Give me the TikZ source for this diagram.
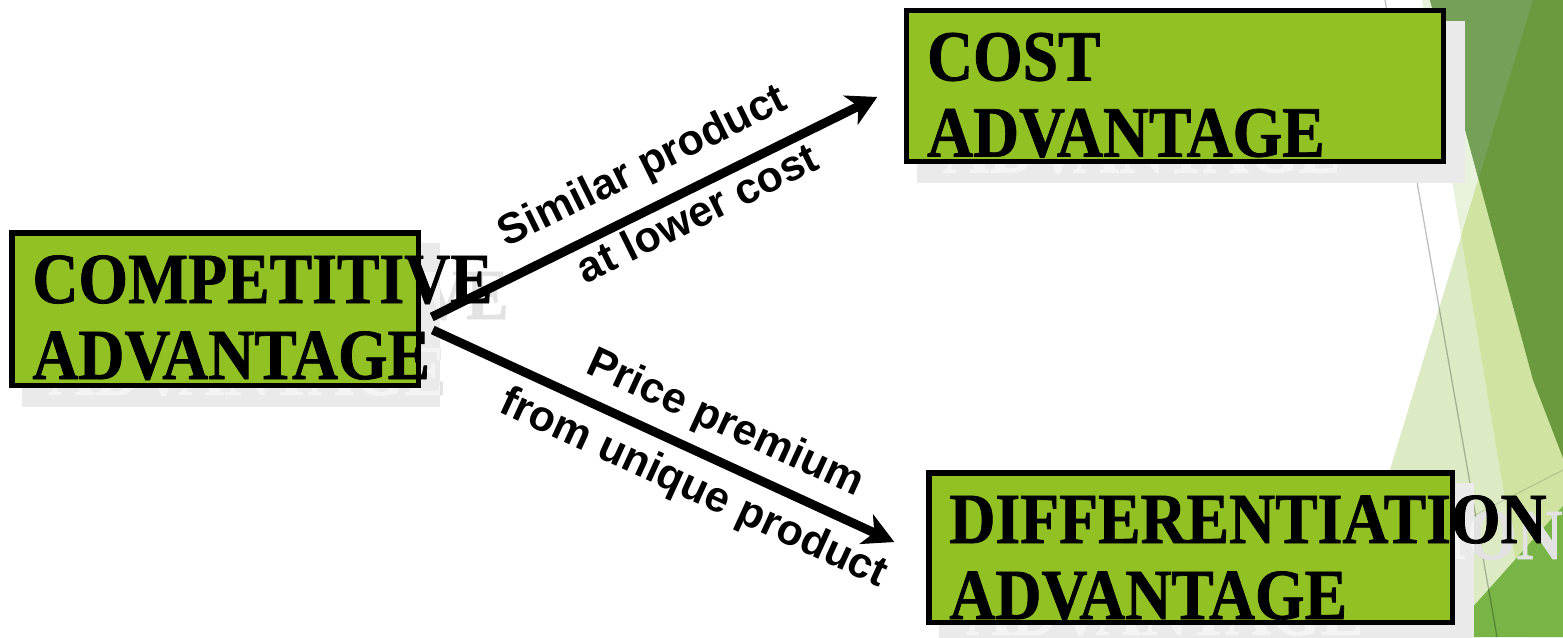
\documentclass[tikz,border=0pt]{standalone}
\usepackage{fontspec}
\usetikzlibrary{arrows.meta,calc}
\newfontfamily\panelfont[FakeStretch=0.885,FakeBold=1]{Liberation Serif}
\newfontfamily\labelfont{Liberation Sans}

\definecolor{panelgreen}{RGB}{146,193,36}
\definecolor{panelshade}{RGB}{234,234,234}
\definecolor{ghostgray}{RGB}{226,226,226}
\definecolor{ghostlight}{RGB}{244,244,244}
\definecolor{facetdark}{RGB}{106,153,62}
\definecolor{facetmist}{RGB}{116,160,88}
\definecolor{facetpale}{RGB}{232,242,220}
\definecolor{facetolive}{RGB}{208,227,160}
\definecolor{facetlight}{RGB}{221,235,197}
\definecolor{facetmid}{RGB}{120,180,70}

\pgfdeclarelayer{facets}
\pgfdeclarelayer{shades}
\pgfsetlayers{facets,shades,main}

\tikzset{
  panel/.style 2 args={draw=black, line width=5.5pt, fill=panelgreen,
    inner sep=0pt, minimum width=#1, minimum height=#2},
  paneltext/.style={font=\panelfont\bfseries\fontsize{72pt}{76pt}\selectfont,
    inner sep=0pt, anchor=base west},
  lbl/.style={font=\labelfont\bfseries\fontsize{43pt}{48pt}\selectfont,
    sloped, inner sep=0pt},
  flowup/.style={line width=9pt,
    -{Stealth[length=30pt,width=33pt,inset=9pt,line width=1pt]}},
  flowdown/.style={line width=9pt,
    -{Stealth[length=31pt,width=33pt,inset=9pt,line width=1pt]}},
}

% a labelled panel with its drop shadow and ghost lettering
% #1 name, #2 #3 centre, #4 #5 border size, #6 #7 the two lines
\newcommand\panelgroup[7]{%
  \node[panel={#4pt}{#5pt}] (#1) at (#2,#3) {};
  \node[paneltext] (#1-text) at ($(#1.north west)+(23.25,73)$)
    {\begin{tabular}[t]{@{}l@{}}#6\\#7\end{tabular}};
  \begin{pgfonlayer}{shades}
    \fill[panelshade] ($(#1.north west)+(13.25,13.25)$)
      rectangle ($(#1.south east)+(18.75,18.75)$);
    \node[paneltext, text=ghostgray] (#1-ghost) at ($(#1-text.base west)+(16,16)$)
      {\begin{tabular}[t]{@{}l@{}}#6\\#7\end{tabular}};
    \begin{scope}
      \clip ($(#1.north west)+(13.25,13.25)$)
        rectangle ($(#1.south east)+(18.75,18.75)$);
      \node[paneltext, text=ghostlight] (#1-ghostin) at ($(#1-text.base west)+(16,16)$)
        {\begin{tabular}[t]{@{}l@{}}#6\\#7\end{tabular}};
    \end{scope}
  \end{pgfonlayer}%
}

\begin{document}
\begin{tikzpicture}[x=1pt,y=-1pt]
\useasboundingbox (0,0) rectangle (1563,637);

% facets along the right edge
\begin{pgfonlayer}{facets}
  \fill[facetlight] (1533,0) -- (1563,0) -- (1563,637) -- (1339,637) -- cycle;
  \fill[facetolive] (1533,0) -- (1563,0) -- (1563,637) -- (1528,637) -- (1461,235) -- cycle;
  \fill[facetpale] (1422,0) -- (1533,0) -- (1461,235) -- cycle;
  \fill[facetdark] (1430,0) -- (1563,0) -- (1563,458) -- (1533,380) -- cycle;
  \fill[facetmist] (1430,0) -- (1533,0) -- (1478.5,178.8) -- cycle;
  \fill[facetmid] (1563,506) -- (1563,637) -- (1446,637) -- cycle;
  \draw[black, opacity=0.25, line width=1.3pt] (1385,0) -- (1497,637);
  \draw[black, opacity=0.12, line width=1.2pt] (1563,470) -- (1471,517);
\end{pgfonlayer}

% panels
\panelgroup{comp}{215}{309}{406.5}{152.5}{COMPETITIVE}{ADVANTAGE}
\panelgroup{cost}{1174.8}{85.75}{536.9}{151}{COST}{ADVANTAGE}
\panelgroup{diff}{1190.5}{547.5}{523.5}{149.5}{DIFFERENTIATION}{ADVANTAGE}

% connectors
\coordinate (up-s) at ($(comp.east)+(10.75,8)$);
\coordinate (cost-in) at ($(cost.west)+(-26.4,11.25)$);
\coordinate (dn-s) at ($(comp.east)+(11.75,21)$);
\coordinate (diff-in) at ($(diff.west)+(-31.75,-5.5)$);

\draw[flowup] (up-s) --
  node[lbl, pos=0.515, above=29pt, anchor=base] (lbl-sim) {Similar product}
  node[lbl, pos=0.572, below=39pt, anchor=base] (lbl-low) {at lower cost}
  (cost-in);
\draw[flowdown] (dn-s) --
  node[lbl, pos=0.6, above=25pt, anchor=base] (lbl-price) {Price premium}
  node[lbl, pos=0.597, below=47pt, anchor=base] (lbl-uniq) {from unique product}
  (diff-in);
\end{tikzpicture}
\end{document}
